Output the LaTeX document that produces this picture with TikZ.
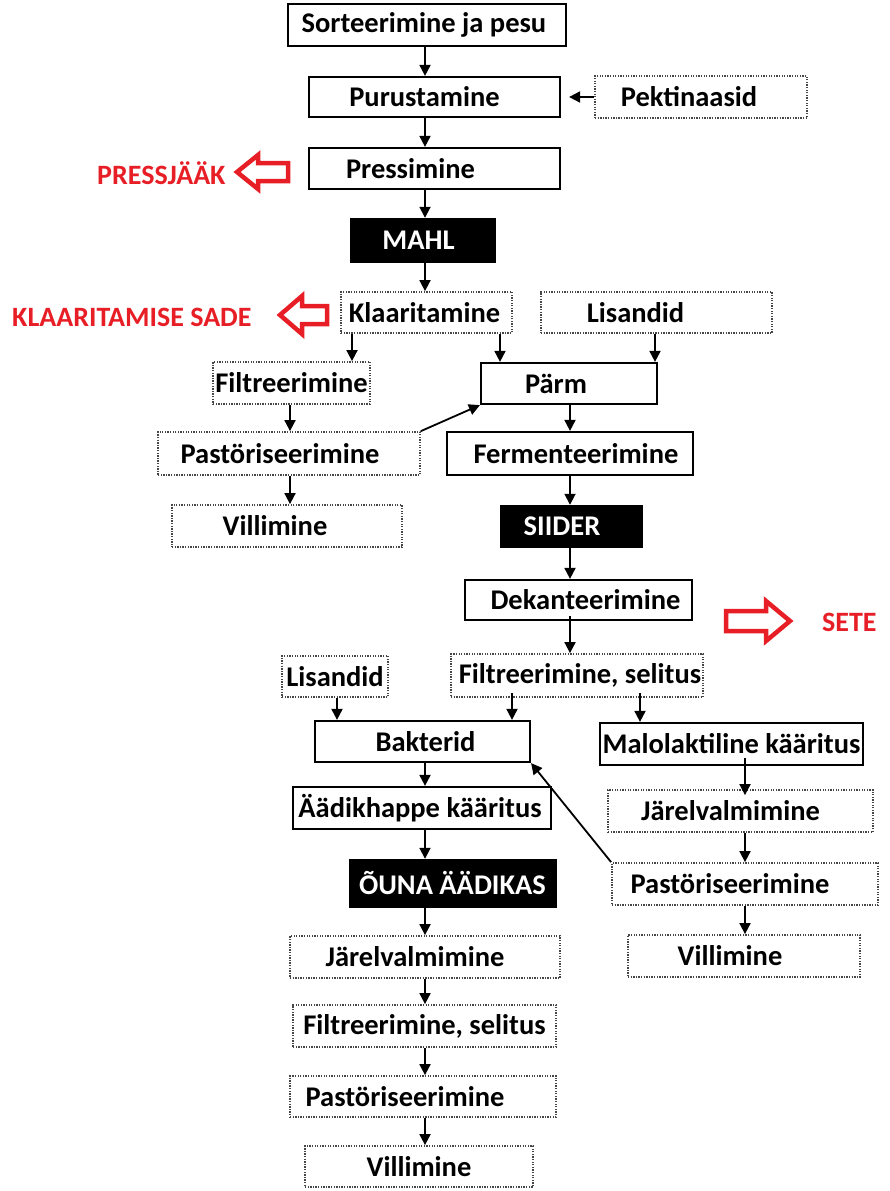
\documentclass[tikz,border=0pt]{standalone}
\usepackage{fontspec}
\setmainfont{Carlito}
\usetikzlibrary{arrows.meta}
\definecolor{redA}{RGB}{232,30,38}
\definecolor{dotgray}{RGB}{70,70,70}
\newcommand{\mybox}[8]{%
  \node[#6, minimum width={(#4-#2)*1pt}, minimum height={(#5-#3)*1pt}] (#1) at ({(#2+#4)/2},{(#3+#5)/2}) {};
  \node[boxtext] at ([xshift=#8pt]#1.center) {#7};}
\begin{document}
\begin{tikzpicture}[x=1pt,y=-1pt,
  boxtext/.style={font=\fontsize{28.5}{32}\selectfont\bfseries, inner sep=0pt},
  redtext/.style={font=\fontsize{28}{32}\selectfont\bfseries, text=redA, inner sep=0pt},
  solidbox/.style={draw=black, line width=2.2pt, fill=white, inner sep=0pt},
  dotbox/.style={draw=dotgray, line width=1.8pt, dash pattern=on 1.3pt off 1.3pt, inner sep=0pt},
  blackbox/.style={draw=black, fill=black, inner sep=0pt},
  flow/.style={-{Triangle[length=11pt,width=11pt]}, line width=1.8pt},
  redarrow/.style={draw=redA, line width=4.5pt, line join=miter}]
\useasboundingbox (0,0) rectangle (889,1191);
% boxes
\mybox{sort}{288}{4}{566}{46}{solidbox}{Sorteerimine ja pesu}{-3}
\mybox{puru}{309}{77}{560}{117}{solidbox}{Purustamine}{-10}
\mybox{pekt}{595}{76}{807}{118}{dotbox}{Pektinaasid}{-12}
\mybox{press}{309}{148}{560}{189}{solidbox}{Pressimine}{-24}
\mybox{mahl}{350}{218}{495}{262}{blackbox}{\color{white}MAHL}{-4}
\mybox{klaar}{341}{292}{512}{333}{dotbox}{Klaaritamine}{-2}
\mybox{lisaA}{541}{292}{772}{333}{dotbox}{Lisandid}{-21}
\mybox{filtA}{213}{362}{370}{404}{dotbox}{Filtreerimine}{0}
\mybox{parm}{481}{363}{657}{404}{solidbox}{Pärm}{-13}
\mybox{pastA}{158}{432}{420}{475}{dotbox}{Pastöriseerimine}{-9}
\mybox{ferm}{447}{432}{693}{475}{solidbox}{Fermenteerimine}{6}
\mybox{villA}{172}{505}{402}{547}{dotbox}{Villimine}{-12}
\mybox{siider}{500}{505}{642}{547}{blackbox}{\color{white}SIIDER}{-9}
\mybox{dek}{465}{580}{692}{620}{solidbox}{Dekanteerimine}{7}
\mybox{lisaB}{282}{656}{388}{697}{dotbox}{Lisandid}{0}
\mybox{fsA}{451}{654}{703}{697}{dotbox}{Filtreerimine, selitus}{3}
\mybox{bakt}{315}{721}{530}{762}{solidbox}{Bakterid}{3}
\mybox{malo}{600}{723}{863}{765}{solidbox}{Malolaktiline kääritus}{0}
\mybox{aadik}{293}{787}{551}{829}{solidbox}{Äädikhappe kääritus}{-2}
\mybox{jarA}{608}{790}{873}{832}{dotbox}{Järelvalmimine}{-10}
\mybox{ouna}{349}{859}{556}{907}{blackbox}{\color{white}ÕUNA ÄÄDIKAS}{0}
\mybox{pastB}{612}{863}{878}{905}{dotbox}{Pastöriseerimine}{-15}
\mybox{villB}{628}{935}{860}{977}{dotbox}{Villimine}{-14}
\mybox{jarB}{290}{936}{560}{978}{dotbox}{Järelvalmimine}{-10}
\mybox{fsB}{293}{1005}{556}{1047}{dotbox}{Filtreerimine, selitus}{0}
\mybox{pastC}{290}{1076}{556}{1117}{dotbox}{Pastöriseerimine}{-18}
\mybox{villC}{305}{1146}{533}{1187}{dotbox}{Villimine}{0}
% red labels
\node[redtext, anchor=west] (pj) at (97,173) {PRESSJÄÄK};
\node[redtext, anchor=west] (ks) at (12,317) {KLAARITAMISE SADE};
\node[redtext, anchor=west] (sete) at (822,622) {SETE};
\draw[redarrow] (237,172) -- (258,155) -- (258,163) -- (288,163) -- (288,181) -- (258,181) -- (258,189) -- cycle;
\draw[redarrow] (280,315) -- (302,296) -- (302,306) -- (327,306) -- (327,324) -- (302,324) -- (302,334) -- cycle;
\draw[redarrow] (790,621) -- (766,601) -- (766,611) -- (726,611) -- (726,631) -- (766,631) -- (766,641) -- cycle;
% connectors
\draw[flow] (sort.south -| 425,0) -- (puru.north -| 425,0);
\draw[flow] (pekt.west) -- ([xshift=8pt]puru.east);
\draw[flow] (puru.south -| 425,0) -- (press.north -| 425,0);
\draw[flow] (press.south -| 425,0) -- (mahl.north -| 425,0);
\draw[flow] (mahl.south -| 425,0) -- (klaar.north -| 425,0);
\draw[flow] (klaar.south -| 352,0) -- (filtA.north -| 352,0);
\draw[flow] (klaar.south -| 500,0) -- (parm.north -| 500,0);
\draw[flow] (lisaA.south -| 655,0) -- (parm.north -| 655,0);
\draw[flow] (filtA.south -| 290,0) -- (pastA.north -| 290,0);
\draw[flow] (pastA.north east) -- (parm.south west);
\draw[flow] (parm.south -| 570,0) -- (ferm.north -| 570,0);
\draw[flow] (pastA.south -| 290,0) -- (villA.north -| 290,0);
\draw[flow] (ferm.south -| 570,0) -- (siider.north -| 570,0);
\draw[flow] (siider.south -| 570,0) -- (dek.north -| 570,0);
\draw[flow] ([yshift=5pt]dek.south -| 570,0) -- (fsA.north -| 570,0);
\draw[flow] (lisaB.south -| 337,0) -- (bakt.north -| 337,0);
\draw[flow] ([yshift=5pt]fsA.south -| 512,0) -- (bakt.north -| 512,0);
\draw[flow] ([yshift=5pt]fsA.south -| 640,0) -- (malo.north -| 640,0);
\draw[flow] (bakt.south -| 425,0) -- (aadik.north -| 425,0);
\draw[flow] ([yshift=8pt]malo.south -| 745,0) -- ([yshift=-6pt]jarA.north -| 745,0);
\draw[flow] (pastB.north west) -- (bakt.south east);
\draw[flow] (aadik.south -| 425,0) -- (ouna.north -| 425,0);
\draw[flow] (jarA.south -| 745,0) -- (pastB.north -| 745,0);
\draw[flow] (pastB.south -| 745,0) -- (villB.north -| 745,0);
\draw[flow] (ouna.south -| 425,0) -- (jarB.north -| 425,0);
\draw[flow] (jarB.south -| 425,0) -- (fsB.north -| 425,0);
\draw[flow] (fsB.south -| 425,0) -- (pastC.north -| 425,0);
\draw[flow] (pastC.south -| 425,0) -- (villC.north -| 425,0);
\end{tikzpicture}
\end{document}
